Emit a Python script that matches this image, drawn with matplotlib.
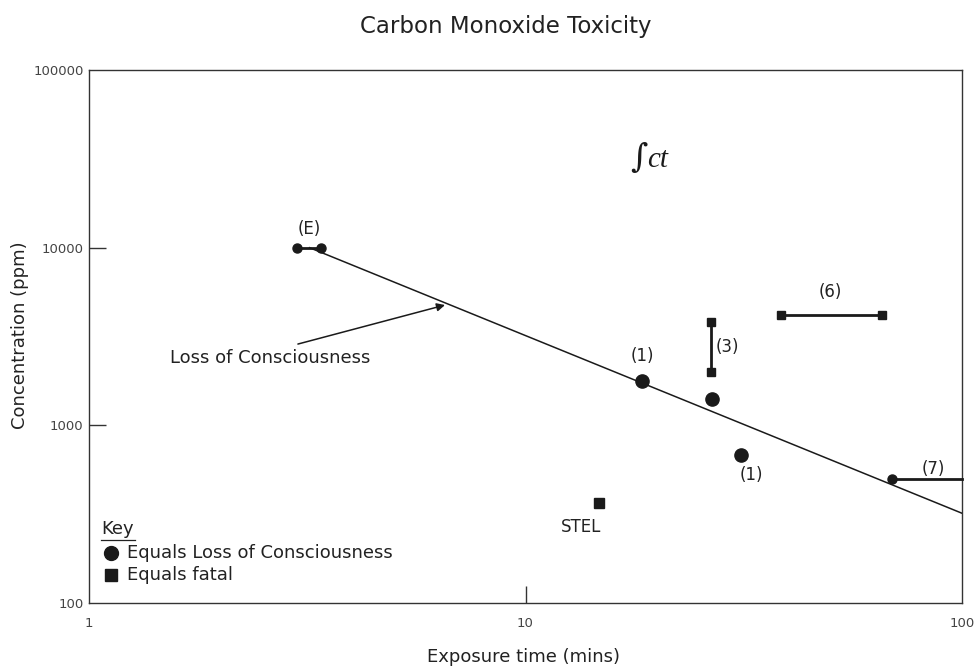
import matplotlib
matplotlib.use("Agg")
import matplotlib.pyplot as plt
from matplotlib.lines import Line2D

plt.rcParams['font.family'] = ['DejaVu Sans']

# Exposure time (mins) vs CO concentration (ppm)
loc_line_t = [3.2, 100]
loc_line_c = [10000, 320]

e_t = [3.0, 3.4]
e_c = [10000, 10000]

unc_t = [18.5, 26.8, 31.1]           # loss of consciousness points
unc_c = [1780, 1400, 683]

fatal3_t = [26.6, 26.6]
fatal3_c = [3800, 2000]

fatal6_t = [38.5, 65.5]
fatal6_c = [4200, 4200]

p7_t = [69.2, 100]
p7_c = [500, 500]

stel_t = [14.7]
stel_c = [365]

x_ticks = [1, 10, 100]
y_ticks = [100, 1000, 10000, 100000]

fig = plt.figure(figsize=(9.78, 6.69), dpi=100)
ax = fig.add_axes([89/978, 1-603/669, (962-89)/978, (603-70)/669])
ax.set_xscale('log')
ax.set_yscale('log')
ax.set_xlim(1, 100)
ax.set_ylim(100, 100000)

ink = '#1a1a1a'
txt = '#222222'
ax.plot(loc_line_t, loc_line_c, color=ink, lw=1.1, zorder=2)

ax.plot(e_t, e_c, color=ink, lw=2, marker='o', ms=6.5, zorder=3)
ax.plot(unc_t, unc_c, linestyle='none', color=ink, marker='o', ms=9.5, zorder=3)
ax.plot(fatal3_t, fatal3_c, color=ink, lw=2, marker='s', ms=5.5, zorder=3)
ax.plot(fatal6_t, fatal6_c, color=ink, lw=2, marker='s', ms=5.5, zorder=3)
ax.plot(p7_t, p7_c, color=ink, lw=2, zorder=3, clip_on=False)
ax.plot(p7_t[:1], p7_c[:1], color=ink, marker='o', ms=6.5, zorder=3)
ax.plot(stel_t, stel_c, linestyle='none', color=ink, marker='s', ms=6.5, zorder=3)

lab = dict(fontsize=12, color=txt, ha='center', va='center')
ax.text(3.2, 12700, '(E)', **lab)
ax.text(18.5, 2450, '(1)', **lab)
ax.text(33.0, 525, '(1)', **lab)
ax.text(29.0, 2750, '(3)', **lab)
ax.text(50.0, 5600, '(6)', **lab)
ax.text(86.0, 570, '(7)', **lab)
ax.text(13.4, 268, 'STEL', **lab)

ax.annotate('', xy=(6.54, 4755), xytext=(3.01, 2867),
            arrowprops=dict(arrowstyle='-|>', color=ink, lw=1.1,
                            mutation_scale=12, shrinkA=0, shrinkB=0))
ax.text(2.6, 2380, 'Loss of Consciousness', fontsize=13, color=txt,
        ha='center', va='center')

# time-integrated exposure symbol
ax.text(18.2, 31900, '\u222b', fontsize=24, family='DejaVu Serif',
        ha='center', va='center', color=ink, fontweight='light')
ax.text(19.0, 31300, 'ct', fontsize=21, family='Liberation Serif',
        style='italic', ha='left', va='center', color=ink)

# key
ax.text(0.014, 0.138, 'Key', transform=ax.transAxes, fontsize=13,
        color=txt, ha='left', va='center')
ax.add_line(Line2D([0.014, 0.053], [0.119, 0.119], transform=ax.transAxes,
                   color=txt, lw=0.9))
ax.plot([0.025], [0.094], transform=ax.transAxes, marker='o', ms=10,
        color=ink, linestyle='none')
ax.text(0.044, 0.094, 'Equals Loss of Consciousness', transform=ax.transAxes,
        fontsize=13, color=txt, ha='left', va='center')
ax.plot([0.025], [0.052], transform=ax.transAxes, marker='s', ms=9,
        color=ink, linestyle='none')
ax.text(0.044, 0.052, 'Equals fatal', transform=ax.transAxes,
        fontsize=13, color=txt, ha='left', va='center')

# axes styling
for s in ax.spines.values():
    s.set_color('#333333')
    s.set_linewidth(1.0)
ax.set_xticks(x_ticks)
ax.set_xticklabels([str(v) for v in x_ticks])
ax.set_yticks(y_ticks)
ax.set_yticklabels([str(v) for v in y_ticks])
ax.minorticks_off()
ax.tick_params(axis='both', direction='in', length=12, width=1,
               color='#333333', labelsize=9.5, labelcolor='#444444')
ax.tick_params(axis='x', pad=10)
ax.tick_params(axis='y', pad=4)
for i, t in enumerate(ax.xaxis.get_major_ticks()):
    if x_ticks[i] != 10:
        t.tick1line.set_visible(False)
for i, t in enumerate(ax.yaxis.get_major_ticks()):
    if y_ticks[i] in (100, 100000):
        t.tick1line.set_visible(False)

fig.text(524/978, 1-657/669, 'Exposure time (mins)', fontsize=13,
         color=txt, ha='center', va='center')
fig.text(20/978, 1-335/669, 'Concentration (ppm)', fontsize=13,
         color=txt, ha='center', va='center', rotation=90)
fig.text(506/978, 1-26/669, 'Carbon Monoxide Toxicity', fontsize=16.5,
         color=txt, ha='center', va='center')

fig.savefig('out.png', dpi=100)
